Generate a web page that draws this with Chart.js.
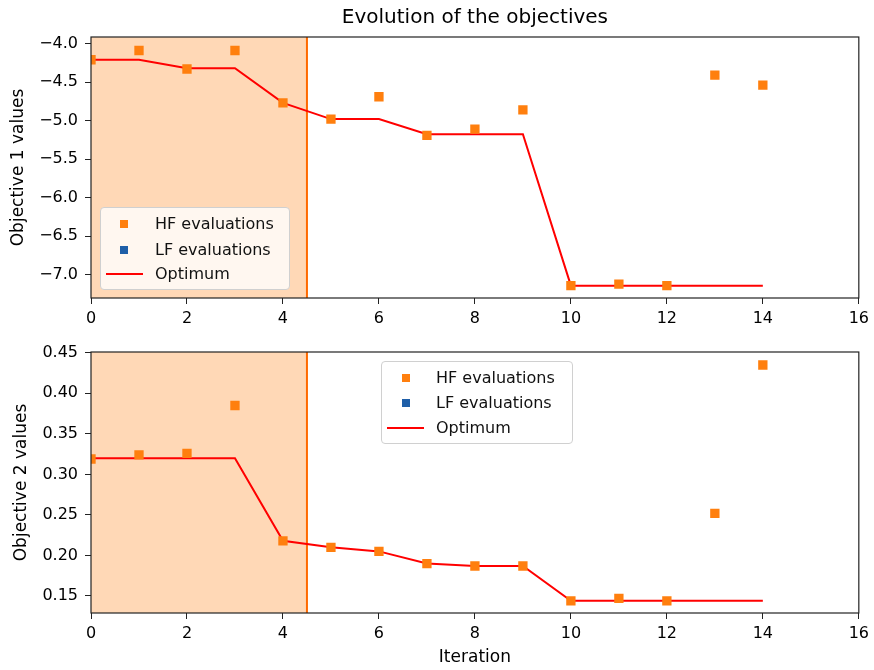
<!DOCTYPE html>
<html>
<head>
<meta charset="utf-8">
<script src="https://cdn.jsdelivr.net/npm/chart.js@4/dist/chart.umd.min.js"></script>
<style>
  body { margin: 0; background: #fff; font-family: 'DejaVu Sans', sans-serif; }
  #wrap { position: relative; width: 874px; height: 670px; }
  .panel { position: absolute; left: 0; width: 874px; }
  .legend {
    position: absolute; background: rgba(255,255,255,0.8);
    border: 1px solid #d0d0d0; border-radius: 4px; box-sizing: border-box;
    font-size: 16px; color: #111;
  }
  .legend .row { position: absolute; left: 0; height: 25px; line-height: 25px; }
  .legend .sym { position: absolute; }
  .legend .txt { position: absolute; left: 54px; white-space: nowrap; }
</style>
</head>
<body>
<div id="wrap">
  <div class="panel" style="top:0;height:330px"><canvas id="obj1"></canvas></div>
  <div class="panel" style="top:330px;height:340px"><canvas id="obj2"></canvas></div>

  <div class="legend" style="left:100px;top:207px;width:190px;height:83px">
    <div class="row" style="top:3px"><div class="sym" style="left:19px;top:9px;width:8px;height:8px;background:#ff7f0e"></div><div class="txt">HF evaluations</div></div>
    <div class="row" style="top:29px"><div class="sym" style="left:19px;top:9px;width:8px;height:8px;background:#1f5fa8"></div><div class="txt">LF evaluations</div></div>
    <div class="row" style="top:53px"><div class="sym" style="left:5px;top:12px;width:37px;height:2px;background:#ff0000"></div><div class="txt">Optimum</div></div>
  </div>
  <div class="legend" style="left:381px;top:361px;width:192px;height:83px">
    <div class="row" style="top:3px"><div class="sym" style="left:20px;top:9px;width:8px;height:8px;background:#ff7f0e"></div><div class="txt">HF evaluations</div></div>
    <div class="row" style="top:28px"><div class="sym" style="left:20px;top:9px;width:8px;height:8px;background:#1f5fa8"></div><div class="txt">LF evaluations</div></div>
    <div class="row" style="top:53px"><div class="sym" style="left:5px;top:12px;width:37px;height:2px;background:#ff0000"></div><div class="txt">Optimum</div></div>
  </div>
</div>

<script>
// --- data --------------------------------------------------------------
const iterations = [0, 1, 2, 3, 4, 5, 6, 7, 8, 9, 10, 11, 12, 13, 14];

const hfObj1 = [-4.21, -4.09, -4.33, -4.09, -4.77, -4.98, -4.69, -5.19, -5.11, -4.86, -7.14, -7.12, -7.14, -4.41, -4.54];
const optObj1 = [-4.21, -4.21, -4.32, -4.32, -4.77, -4.98, -4.98, -5.175, -5.175, -5.175, -7.14, -7.14, -7.14, -7.14, -7.14];

const hfObj2 = [0.319, 0.324, 0.326, 0.385, 0.218, 0.210, 0.205, 0.190, 0.187, 0.187, 0.144, 0.147, 0.144, 0.252, 0.435];
const optObj2 = [0.320, 0.320, 0.320, 0.320, 0.218, 0.210, 0.205, 0.190, 0.187, 0.187, 0.144, 0.144, 0.144, 0.144, 0.144];

const lfObj1 = [];
const lfObj2 = [];

const xTicks = [0, 2, 4, 6, 8, 10, 12, 14, 16];
const yTicks1 = [-4.0, -4.5, -5.0, -5.5, -6.0, -6.5, -7.0];
const yTicks2 = [0.15, 0.20, 0.25, 0.30, 0.35, 0.40, 0.45];

const initialDoeEnd = 4.5;   // shaded initial DOE region
const chartTitle = 'Evolution of the objectives';

// --- helpers ------------------------------------------------------------
const FONT = 'DejaVu Sans';
const ORANGE = '#ff7f0e';

const pts = (ys) => ys.map((y, i) => ({ x: iterations[i], y }));
const minusFmt = (v, dec) => v.toFixed(dec).replace('-', '\u2212');

// shading + vertical line + full frame box
const framePlugin = {
  id: 'frame',
  beforeDatasetsDraw(chart) {
    const { ctx, chartArea: a, scales } = chart;
    const x0 = scales.x.getPixelForValue(0);
    const x1 = scales.x.getPixelForValue(initialDoeEnd);
    ctx.save();
    ctx.fillStyle = 'rgba(255,127,14,0.3)';
    ctx.fillRect(x0, a.top, x1 - x0, a.bottom - a.top);
    ctx.strokeStyle = '#ff6a00';
    ctx.lineWidth = 2;
    ctx.beginPath();
    ctx.moveTo(x1, a.top);
    ctx.lineTo(x1, a.bottom);
    ctx.stroke();
    ctx.restore();
  },
  afterDraw(chart) {
    const { ctx, chartArea: a } = chart;
    ctx.save();
    ctx.strokeStyle = '#222';
    ctx.lineWidth = 1.2;
    ctx.strokeRect(a.left, a.top, a.right - a.left, a.bottom - a.top);
    const t = chart.options.plugins.frame && chart.options.plugins.frame.title;
    if (t) {
      ctx.fillStyle = '#000';
      ctx.font = `20px '${FONT}'`;
      ctx.textAlign = 'center';
      ctx.textBaseline = 'middle';
      ctx.fillText(t, (a.left + a.right) / 2, 18);
    }
    ctx.restore();
  }
};

function makeChart(canvasId, cfg) {
  const ctx = document.getElementById(canvasId).getContext('2d');
  return new Chart(ctx, {
    type: 'scatter',
    data: {
      datasets: [
        {
          label: 'HF evaluations',
          data: pts(cfg.hf),
          backgroundColor: ORANGE,
          borderWidth: 0,
          pointStyle: 'rect',
          pointRadius: 6.6,
          order: 1,
        },
        {
          label: 'LF evaluations',
          data: cfg.lf,
          backgroundColor: '#1f5fa8',
          borderWidth: 0,
          pointStyle: 'rect',
          pointRadius: 6.6,
          order: 1,
        },
        {
          label: 'Optimum',
          type: 'line',
          data: pts(cfg.opt),
          borderColor: '#ff0000',
          borderWidth: 2,
          pointRadius: 0,
          tension: 0,
          fill: false,
          order: 2,
        }
      ]
    },
    options: {
      responsive: true,
      maintainAspectRatio: false,
      animation: false,
      layout: { padding: { top: cfg.padTop, right: 12, left: 0, bottom: 0 } },
      plugins: {
        legend: { display: false },
        tooltip: { enabled: false },
        frame: { title: cfg.title },
      },
      scales: {
        x: {
          type: 'linear',
          min: 0, max: 16,
          afterBuildTicks: s => { s.ticks = xTicks.map(v => ({ value: v })); },
          afterFit: s => { s.height = cfg.xHeight; },
          grid: { drawOnChartArea: false, drawTicks: true, tickLength: 6, color: '#222' },
          border: { display: false },
          ticks: { color: '#000', padding: 5, maxRotation: 0, font: { family: FONT, size: 16 } },
          title: {
            display: !!cfg.xTitle, text: cfg.xTitle, color: '#000',
            font: { family: FONT, size: 17 }, padding: { top: 0, bottom: 2 }
          }
        },
        y: {
          type: 'linear',
          min: cfg.yMin, max: cfg.yMax,
          afterBuildTicks: s => { s.ticks = cfg.yTicks.map(v => ({ value: v })); },
          afterFit: s => { s.width = 91; },
          grid: { drawOnChartArea: false, drawTicks: true, tickLength: 6, color: '#222' },
          border: { display: false },
          ticks: {
            color: '#000', padding: 7, font: { family: FONT, size: 16 },
            callback: v => minusFmt(v, cfg.dec)
          },
          title: {
            display: true, text: cfg.yTitle, color: '#000',
            font: { family: FONT, size: 17 }, padding: { top: cfg.yTitlePad, bottom: 0 }
          }
        }
      }
    },
    plugins: [framePlugin]
  });
}

makeChart('obj1', {
  hf: hfObj1, lf: lfObj1, opt: optObj1,
  yMin: -7.30, yMax: -3.915, yTicks: yTicks1, dec: 1,
  yTitle: 'Objective 1 values', yTitlePad: 8,
  title: chartTitle, padTop: 37, xHeight: 32, xTitle: ''
});

makeChart('obj2', {
  hf: hfObj2, lf: lfObj2, opt: optObj2,
  yMin: 0.129, yMax: 0.451, yTicks: yTicks2, dec: 2,
  yTitle: 'Objective 2 values', yTitlePad: 11,
  title: '', padTop: 22, xHeight: 57, xTitle: 'Iteration'
});
</script>
</body>
</html>
